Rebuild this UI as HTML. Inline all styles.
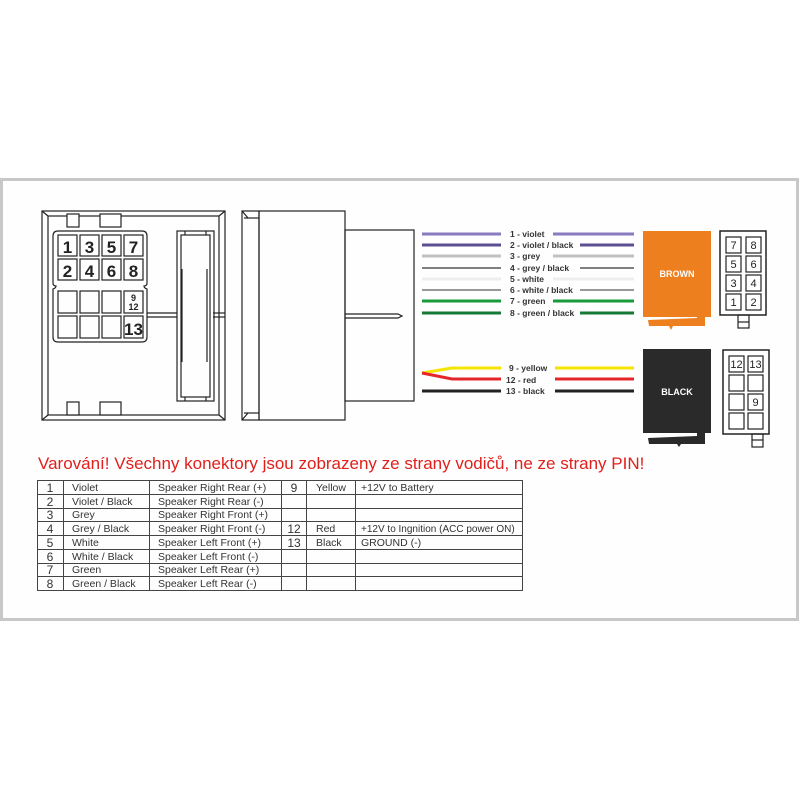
<!DOCTYPE html>
<html><head><meta charset="utf-8"><style>
html,body{margin:0;padding:0;background:#fff;}
svg{display:block;}
text{font-family:"Liberation Sans",Arial,sans-serif;}
</style></head><body>
<svg width="800" height="800" viewBox="0 0 800 800" xmlns="http://www.w3.org/2000/svg">
<rect x="0" y="0" width="800" height="800" fill="#fff"/>
<rect x="1.5" y="179.5" width="796" height="440" fill="#fefefe" stroke="#c8c8c8" stroke-width="3"/>

<g fill="none" stroke="#222" stroke-width="1.2">
<rect x="42" y="211" width="183" height="209"/>
<rect x="48" y="216" width="171" height="199"/>
<line x1="42" y1="211" x2="48" y2="216"/><line x1="225" y1="211" x2="219" y2="216"/>
<line x1="42" y1="420" x2="48" y2="415"/><line x1="225" y1="420" x2="219" y2="415"/>
<rect x="67" y="214" width="12" height="13" fill="#fff"/>
<rect x="100" y="214" width="21" height="13" fill="#fff"/>
<rect x="67" y="402" width="12" height="13" fill="#fff"/>
<rect x="100" y="402" width="21" height="13" fill="#fff"/>
<path d="M58,231 H142 Q147,231 147,236 V283 Q147,286 144,286 Q144,288 147,289 V337 Q147,342 142,342 H58 Q53,342 53,337 V289 Q56,288 56,286 Q53,286 53,283 V236 Q53,231 58,231 Z"/>
<rect x="58" y="235" width="19" height="21"/><rect x="80" y="235" width="19" height="21"/>
<rect x="102" y="235" width="19" height="21"/><rect x="124" y="235" width="19" height="21"/>
<rect x="58" y="259" width="19" height="21"/><rect x="80" y="259" width="19" height="21"/>
<rect x="102" y="259" width="19" height="21"/><rect x="124" y="259" width="19" height="21"/>
<rect x="58" y="291" width="19" height="22"/><rect x="80" y="291" width="19" height="22"/>
<rect x="102" y="291" width="19" height="22"/><rect x="124" y="291" width="19" height="22"/>
<rect x="58" y="316" width="19" height="22"/><rect x="80" y="316" width="19" height="22"/>
<rect x="102" y="316" width="19" height="22"/><rect x="124" y="316" width="19" height="22"/>
<line x1="147" y1="313" x2="177" y2="313"/><line x1="147" y1="317" x2="177" y2="317"/>
<line x1="213" y1="313" x2="225" y2="313"/><line x1="213" y1="317" x2="225" y2="317"/>
<rect x="177" y="231" width="37" height="170"/>
<rect x="181" y="235" width="29" height="162"/>
<line x1="182" y1="269" x2="182" y2="362"/><line x1="207" y1="269" x2="207" y2="362"/>
<line x1="185" y1="231" x2="185" y2="235"/><line x1="206" y1="231" x2="206" y2="235"/>
<line x1="185" y1="397" x2="185" y2="401"/><line x1="206" y1="397" x2="206" y2="401"/>

<rect x="242" y="211" width="17" height="209"/>
<line x1="244" y1="218" x2="259" y2="218"/><line x1="244" y1="413" x2="259" y2="413"/>
<line x1="242" y1="211" x2="248" y2="218"/><line x1="242" y1="420" x2="248" y2="413"/>
<rect x="259" y="211" width="86" height="209"/>
<rect x="345" y="230" width="69" height="171"/>
<polyline points="345,314 398,314 402,316 398,318 345,318"/>

<rect x="720" y="231" width="46" height="84" fill="#fff" stroke-width="1.5"/>
<rect x="726" y="237" width="15" height="16"/><rect x="746" y="237" width="15" height="16"/>
<rect x="726" y="256" width="15" height="16"/><rect x="746" y="256" width="15" height="16"/>
<rect x="726" y="275" width="15" height="16"/><rect x="746" y="275" width="15" height="16"/>
<rect x="726" y="294" width="15" height="16"/><rect x="746" y="294" width="15" height="16"/>
<rect x="738" y="315" width="11" height="13"/><line x1="738" y1="322" x2="749" y2="322"/>

<rect x="723" y="350" width="46" height="84" fill="#fff" stroke-width="1.5"/>
<rect x="729" y="356" width="15" height="16"/><rect x="748" y="356" width="15" height="16"/>
<rect x="729" y="375" width="15" height="16"/><rect x="748" y="375" width="15" height="16"/>
<rect x="729" y="394" width="15" height="16"/><rect x="748" y="394" width="15" height="16"/>
<rect x="729" y="413" width="15" height="16"/><rect x="748" y="413" width="15" height="16"/>
<rect x="752" y="434" width="11" height="13"/><line x1="752" y1="440" x2="763" y2="440"/>
</g>

<g font-weight="bold" fill="#222" text-anchor="middle">
<text x="67.5" y="253" font-size="17">1</text><text x="89.5" y="253" font-size="17">3</text>
<text x="111.5" y="253" font-size="17">5</text><text x="133.5" y="253" font-size="17">7</text>
<text x="67.5" y="277" font-size="17">2</text><text x="89.5" y="277" font-size="17">4</text>
<text x="111.5" y="277" font-size="17">6</text><text x="133.5" y="277" font-size="17">8</text>
<text x="133.5" y="301" font-size="9">9</text><text x="133.5" y="310" font-size="9">12</text>
<text x="133.5" y="335" font-size="17">13</text>
</g>
<g fill="#222" text-anchor="middle" font-size="11">
<text x="733.5" y="249">7</text><text x="753.5" y="249">8</text>
<text x="733.5" y="268">5</text><text x="753.5" y="268">6</text>
<text x="733.5" y="287">3</text><text x="753.5" y="287">4</text>
<text x="733.5" y="306">1</text><text x="753.5" y="306">2</text>
<text x="736.5" y="368">12</text><text x="755.5" y="368">13</text>
<text x="755.5" y="406">9</text>
</g>

<rect x="643" y="231" width="68" height="86" fill="#ee7f1f"/>
<polygon points="648,320 697,318 697,316 705,316 705,326 673,326 671,330 669,326 649,326" fill="#ee7f1f"/>
<text x="677" y="277" font-size="9" font-weight="bold" fill="#fff" text-anchor="middle">BROWN</text>
<rect x="643" y="349" width="68" height="84" fill="#2a2a2a"/>
<polygon points="648,438 697,436 697,433 705,433 705,444 681,444 679,447 677,444 649,444" fill="#2a2a2a"/>
<text x="677" y="395" font-size="9" font-weight="bold" fill="#fff" text-anchor="middle">BLACK</text>

<g stroke-width="3" fill="none">
<line x1="422" y1="234" x2="501" y2="234" stroke="#8a7bc0"/><line x1="553" y1="234" x2="634" y2="234" stroke="#8a7bc0"/>
<line x1="422" y1="245" x2="501" y2="245" stroke="#5e4f93"/><line x1="580" y1="245" x2="634" y2="245" stroke="#5e4f93"/>
<line x1="422" y1="256" x2="501" y2="256" stroke="#c0c0c0"/><line x1="553" y1="256" x2="634" y2="256" stroke="#c0c0c0"/>
<line x1="422" y1="268" x2="501" y2="268" stroke="#808080" stroke-width="2"/><line x1="580" y1="268" x2="634" y2="268" stroke="#808080" stroke-width="2"/>
<line x1="422" y1="279" x2="501" y2="279" stroke="#eeeeee"/><line x1="553" y1="279" x2="634" y2="279" stroke="#eeeeee"/>
<line x1="422" y1="290" x2="501" y2="290" stroke="#999" stroke-width="2"/><line x1="580" y1="290" x2="634" y2="290" stroke="#999" stroke-width="2"/>
<line x1="422" y1="301" x2="501" y2="301" stroke="#1a9a3a"/><line x1="553" y1="301" x2="634" y2="301" stroke="#1a9a3a"/>
<line x1="422" y1="313" x2="501" y2="313" stroke="#157a35"/><line x1="580" y1="313" x2="634" y2="313" stroke="#157a35"/>
<polyline points="422,373 452,368 501,368" stroke="#f5e400"/><line x1="555" y1="368" x2="634" y2="368" stroke="#f5e400"/>
<polyline points="422,373 452,379 501,379" stroke="#e5262a"/><line x1="555" y1="379" x2="634" y2="379" stroke="#e5262a"/>
<line x1="422" y1="391" x2="501" y2="391" stroke="#222"/><line x1="555" y1="391" x2="634" y2="391" stroke="#222"/>
</g>
<g font-size="8.5" font-weight="bold" fill="#333">
<text x="510" y="237">1 - violet</text>
<text x="510" y="248">2 - violet / black</text>
<text x="510" y="259">3 - grey</text>
<text x="510" y="271">4 - grey / black</text>
<text x="510" y="282">5 - white</text>
<text x="510" y="293">6 - white / black</text>
<text x="510" y="304">7 - green</text>
<text x="510" y="316">8 - green / black</text>
<text x="509" y="371">9 - yellow</text>
<text x="506" y="383">12 - red</text>
<text x="506" y="394">13 - black</text>
</g>

<text x="38" y="469" font-size="17" fill="#e0201c">Varování! Všechny konektory jsou zobrazeny ze strany vodičů, ne ze strany PIN!</text>

<g stroke="#444" stroke-width="1" fill="none">
<rect x="37.5" y="480.5" width="485" height="110"/>
<line x1="37" y1="494.5" x2="522" y2="494.5"/><line x1="37" y1="508.5" x2="522" y2="508.5"/>
<line x1="37" y1="521.5" x2="522" y2="521.5"/><line x1="37" y1="535.5" x2="522" y2="535.5"/>
<line x1="37" y1="549.5" x2="522" y2="549.5"/><line x1="37" y1="563.5" x2="522" y2="563.5"/>
<line x1="37" y1="576.5" x2="522" y2="576.5"/>
<line x1="63.5" y1="480" x2="63.5" y2="591"/><line x1="149.5" y1="480" x2="149.5" y2="591"/>
<line x1="281.5" y1="480" x2="281.5" y2="591"/><line x1="306.5" y1="480" x2="306.5" y2="591"/>
<line x1="355.5" y1="480" x2="355.5" y2="591"/>
</g>
<g font-size="10.5" fill="#333">
<g text-anchor="middle" font-size="12">
<text x="50" y="492">1</text><text x="50" y="506">2</text><text x="50" y="519">3</text><text x="50" y="533">4</text>
<text x="50" y="547">5</text><text x="50" y="561">6</text><text x="50" y="574">7</text><text x="50" y="588">8</text>
<text x="294" y="492">9</text><text x="294" y="533">12</text><text x="294" y="547">13</text>
</g>
<text x="72" y="491">Violet</text><text x="72" y="505">Violet / Black</text><text x="72" y="518">Grey</text>
<text x="72" y="532">Grey / Black</text><text x="72" y="546">White</text><text x="72" y="560">White / Black</text>
<text x="72" y="573">Green</text><text x="72" y="587">Green / Black</text>
<text x="158" y="491">Speaker Right Rear (+)</text><text x="158" y="505">Speaker Right Rear (-)</text>
<text x="158" y="518">Speaker Right Front (+)</text><text x="158" y="532">Speaker Right Front (-)</text>
<text x="158" y="546">Speaker Left Front (+)</text><text x="158" y="560">Speaker Left Front (-)</text>
<text x="158" y="573">Speaker Left Rear (+)</text><text x="158" y="587">Speaker Left Rear (-)</text>
<text x="316" y="491">Yellow</text><text x="316" y="532">Red</text><text x="316" y="546">Black</text>
<text x="361" y="491">+12V to Battery</text>
<text x="361" y="532" font-size="10">+12V to Ingnition (ACC power ON)</text>
<text x="361" y="546">GROUND (-)</text>
</g>
</svg>
</body></html>
